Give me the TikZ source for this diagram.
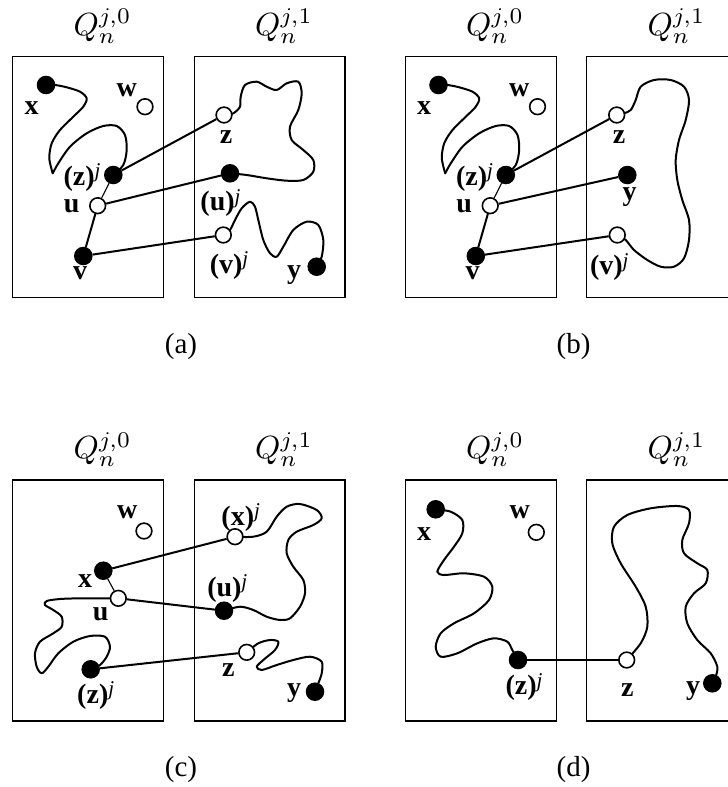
\documentclass[tikz,border=0pt]{standalone}
\usepackage{fontspec}
\setmainfont{Liberation Serif}
\usetikzlibrary{backgrounds}

% superscript j used in the bold vertex labels
\newcommand\sj{\raisebox{7.5pt}{\fontsize{21}{21}\selectfont\mdseries\itshape j}}

% the two boxes, their titles and the caption of one panel
\newcommand\panelframe[1]{%
  \draw[frame] (12.7,56.7) rectangle (163.7,297.7);
  \draw[frame] (194.3,56.7) rectangle (345,297.7);
  \node[ttl] (t0) at (73,35.5) {$Q_n^{j,0}$};
  \node[ttl] (t1) at (254.5,35.5) {$Q_n^{j,1}$};
  \node[captionlbl] (lab) at (181,346.7) {(#1)};
}

% left box contents shared by panels (a) and (b)
\newcommand\leftpartAB{%
  \node[full] (x) at (46,85) {};
  \node[hollow] (w) at (145,106.7) {};
  \node[full] (zj) at (113.3,175) {};
  \node[hollow] (u) at (97.7,205.7) {};
  \node[full] (v) at (83.3,256) {};
  \node[lbl] (lx) at (31.7,108.3) {x};
  \node[lbl] (lw) at (126.7,90) {w};
  \node[lbl] (lzj) at (82,177.5) {(z)\sj};
  \node[lbl] (lu) at (71.7,206.7) {u};
  \node[lbl] (lv) at (80,273.3) {v};
  \begin{scope}[on background layer]
    \draw[curve] plot[smooth] coordinates {(x.center) (55,85) (66.7,87.3) (80,91.7) (86.7,98.3) (83.3,106.7) (73.3,116.7) (60,130) (51.7,143.3) (49.3,158.3) (52.7,173.3)};
    \draw[curve] plot[smooth] coordinates {(52.7,173.3) (58.3,163.3) (70,146.7) (86.7,133.3) (103.3,126) (116.7,126) (125,135) (126.7,150) (123.3,165) (zj.center)};
    \draw[thinlink] (zj) -- (u);
    \draw[link] (u) -- (v);
  \end{scope}
}

\begin{document}
\begin{tikzpicture}[x=1pt,y=-1pt,
  frame/.style={draw, line width=1.1pt},
  curve/.style={line width=2pt, line cap=round, line join=round},
  link/.style={line width=2pt},
  thinlink/.style={line width=1.1pt},
  full/.style={circle, draw, fill=black, line width=1pt, minimum size=17.5pt, inner sep=0pt},
  hollow/.style={circle, draw, fill=white, line width=1.6pt, minimum size=15.7pt, inner sep=0pt},
  lbl/.style={inner sep=0pt, font=\bfseries\fontsize{28}{28}\selectfont},
  ttl/.style={inner sep=0pt, anchor=base west, scale=3.2},
  captionlbl/.style={inner sep=0pt, font=\fontsize{29}{29}\selectfont}]

\useasboundingbox (0,0) rectangle (728,787);

% ---------------- panel (a)
\begin{scope}[name prefix=a-]
  \panelframe{a}
  \leftpartAB
  \node[hollow] (z) at (224,115) {};
  \node[full] (uj) at (230,173.3) {};
  \node[hollow] (vj) at (223.3,235) {};
  \node[full] (y) at (316.7,266.7) {};
  \node[lbl] (lz) at (226.2,137) {z};
  \node[lbl] (luj) at (220.5,203) {(u)\sj};
  \node[lbl] (lvj) at (229,265.5) {(v)\sj};
  \node[lbl] (ly) at (294,275) {y};
  \begin{scope}[on background layer]
    \draw[curve] plot[smooth] coordinates {(z.center) (233.3,113.3) (240,106.7) (240.7,96.7) (245,85) (256.7,81.7) (266.7,86.7) (276.7,90) (286.7,83.3) (298.3,81.7) (301.7,93.3) (298.3,110) (290,126.7) (291.7,140) (303.3,150) (313.3,160) (313.3,171.7) (303.3,180) (286.7,180.7) (266.7,178.3) (246.7,175) (uj.center)};
    \draw[curve] plot[smooth] coordinates {(vj.center) (230,230) (235,220) (241.7,208.3) (250,201.7) (255,206.7) (258.3,220) (263.3,240) (270,253.3) (276.7,256.7) (283.3,246.7) (293.3,230) (306.7,221.7) (318.3,225) (323.3,240) (321.7,256.7) (y.center)};
    \draw[link] (zj) -- (z);
    \draw[link] (u) -- (uj);
    \draw[link] (v) -- (vj);
  \end{scope}
\end{scope}

% ---------------- panel (b)
\begin{scope}[shift={(392.5,0)}, name prefix=b-]
  \panelframe{b}
  \leftpartAB
  \node[hollow] (z) at (224.2,115) {};
  \node[full] (y) at (234.8,175) {};
  \node[hollow] (vj) at (224.8,235) {};
  \node[lbl] (lz) at (226.5,136.7) {z};
  \node[lbl] (ly) at (237.2,197.3) {y};
  \node[lbl] (lvj) at (216.8,267) {(v)\sj};
  \begin{scope}[on background layer]
    \draw[curve] plot[smooth] coordinates {(z.center) (231.5,113.3) (238.2,110) (243.2,100) (248.2,86.7) (261.5,80) (278.2,80) (291.5,86.7) (296.5,100) (293.2,120) (286.5,140) (283.2,160) (284.8,180) (289.8,200) (296.5,220) (296.5,240) (291.5,258.3) (281.5,266.7) (268.2,266.7) (254.8,260) (241.5,250) (233.2,240) (vj.center)};
    \draw[link] (zj) -- (z);
    \draw[link] (u) -- (y);
    \draw[link] (v) -- (vj);
  \end{scope}
\end{scope}

% ---------------- panel (c)
\begin{scope}[shift={(0,423.3)}, name prefix=c-]
  \panelframe{c}
\end{scope}
\begin{scope}[name prefix=c-]
  \node[hollow] (w) at (144,531) {};
  \node[hollow] (xj) at (235,536.7) {};
  \node[full] (x) at (103.3,570.7) {};
  \node[hollow] (u) at (118.3,598.3) {};
  \node[full] (uj) at (224,610.7) {};
  \node[full] (zj) at (90.7,669.3) {};
  \node[hollow] (z) at (246.7,652.3) {};
  \node[full] (y) at (315,691.7) {};
  \node[lbl] (lw) at (127.3,512.3) {w};
  \node[lbl] (lxj) at (240.7,517.7) {(x)\sj};
  \node[lbl] (lx) at (85,580.7) {x};
  \node[lbl] (lu) at (100.7,614) {u};
  \node[lbl] (luj) at (227.3,588.3) {(u)\sj};
  \node[lbl] (lzj) at (95.7,695.5) {(z)\sj};
  \node[lbl] (lz) at (228.3,670) {z};
  \node[lbl] (ly) at (294,693.3) {y};
  \begin{scope}[on background layer]
    \draw[curve] plot[smooth] coordinates {(xj.center) (253.3,536.7) (266.7,531.7) (276.7,516.7) (286.7,506.7) (300,504) (316.7,510) (321.7,518.3) (313.3,525) (296.7,531.7) (288.3,540) (286.7,553.3) (293.3,566.7) (303.3,580) (305,593.3) (300,606.7) (290,618.3) (280,620) (266.7,616.7) (253.3,610) (240,606.7) (uj.center)};
    \draw[curve] plot[smooth] coordinates {(u.center) (100,598.3) (80,598.3) (60,599) (46.7,601) (45,605) (53.3,610) (61.7,616.7) (61.7,626.7) (53.3,633.3) (40,641.7) (35,653.3) (36.7,666.7) (41.7,673.3) (48.3,666.7) (58.3,653.3) (73.3,641.7) (90,636) (105,636.7) (110,646.7) (106.7,656.7) (100,665) (zj.center)};
    \draw[curve] plot[smooth] coordinates {(z.center) (258.3,643.3) (270,640) (278.3,641.7) (275,650) (263.3,660) (256.7,666.7) (261.7,670) (276.7,665) (293.3,660) (310,656.7) (321.7,661.7) (321.7,673.3) (318.3,683.3) (y.center)};
    \draw[link] (x) -- (xj);
    \draw[thinlink] (x) -- (u);
    \draw[link] (u) -- (uj);
    \draw[link] (zj) -- (z);
  \end{scope}
\end{scope}

% ---------------- panel (d)
\begin{scope}[shift={(392.5,423.3)}, name prefix=d-]
  \panelframe{d}
\end{scope}
\begin{scope}[name prefix=d-]
  \node[full] (x) at (435.7,509.3) {};
  \node[hollow] (w) at (536.3,532.3) {};
  \node[full] (zj) at (518,660) {};
  \node[hollow] (z) at (626.7,660) {};
  \node[full] (y) at (712.3,683.3) {};
  \node[lbl] (lx) at (424,534) {x};
  \node[lbl] (lw) at (519.7,512.3) {w};
  \node[lbl] (lzj) at (524,687) {(z)\sj};
  \node[lbl] (lz) at (627.3,690) {z};
  \node[lbl] (ly) at (693,690.7) {y};
  \begin{scope}[on background layer]
    \draw[curve] plot[smooth] coordinates {(x.center) (450.7,511.7) (462.3,520) (462.3,533.3) (454,546.7) (444,560) (437.3,571.7) (444,575) (464,573.3) (484,576.7) (492.3,586.7) (489,600) (474,613.3) (454,623.3) (440.7,633.3) (435.7,646.7) (440.7,656.7) (457.3,653.3) (477.3,643.3) (494,638.3) (507.3,641.7) (512.3,650) (zj.center)};
    \draw[curve] plot[smooth] coordinates {(z.center) (640.7,643.3) (647.3,626.7) (645.7,606.7) (635.7,586.7) (620.7,563.3) (612.3,543.3) (614,526.7) (627.3,515) (650.7,508.3) (677.3,506) (689,510) (689,523.3) (682.3,540) (684,553.3) (697.3,563.3) (707.3,570) (705.7,583.3) (694,593.3) (685.7,606.7) (687.3,623.3) (697.3,640) (710.7,653.3) (717.3,666.7) (715.7,676.7) (y.center)};
    \draw[link] (zj) -- (z);
  \end{scope}
\end{scope}

\end{tikzpicture}
\end{document}
